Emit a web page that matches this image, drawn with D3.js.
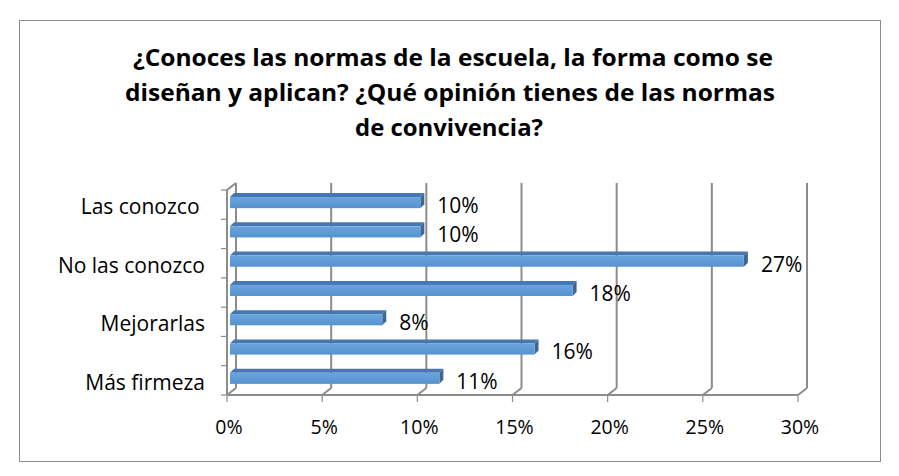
<!DOCTYPE html>
<html>
<head>
<meta charset="utf-8">
<script src="https://cdn.jsdelivr.net/npm/d3@7"></script>
<style>
  body { margin: 0; background: #fff; }
  svg text { font-family: "Open Sans", "Noto Sans", sans-serif; fill: #000; }
</style>
</head>
<body>
<svg id="chart" width="899" height="476"></svg>
<script>
// chart data
const categories = ["Las conozco", "c2", "No las conozco", "c4", "Mejorarlas", "c6", "Más firmeza"];
const shownLabels = ["Las conozco\u00a0", "", "No las conozco", "", "Mejorarlas", "", "Más firmeza"];
const values = [0.10, 0.10, 0.27, 0.18, 0.08, 0.16, 0.11];
const ticks = [0, 0.05, 0.10, 0.15, 0.20, 0.25, 0.30];
const titleLines = [
  "¿Conoces las normas de la escuela, la forma como se",
  "diseñan y aplican? ¿Qué opinión tienes de las normas",
  "de convivencia?"
];

const svg = d3.select("#chart");

// outer frame
svg.append("rect")
  .attr("x", 19.5).attr("y", 20.5)
  .attr("width", 861).attr("height", 441)
  .attr("fill", "#fff").attr("stroke", "#8c8c8c").attr("stroke-width", 1);

// title
const titleSpec = [
  { x: 453, y: 66, w: 640 },
  { x: 450, y: 101, w: 650 },
  { x: 449, y: 136, w: 188 }
];
svg.append("g").selectAll("text")
  .data(titleLines)
  .join("text")
  .attr("x", (d, i) => titleSpec[i].x)
  .attr("y", (d, i) => titleSpec[i].y)
  .attr("text-anchor", "middle")
  .attr("font-size", 23)
  .attr("font-weight", 700)
  .attr("textLength", (d, i) => titleSpec[i].w)
  .attr("lengthAdjust", "spacingAndGlyphs")
  .text(d => d);

// scales
const x = d3.scaleLinear().domain([0, 0.30]).range([227, 798]);
const y = d3.scaleBand().domain(categories).range([190, 395]).paddingInner(0).paddingOuter(0);
const dx = 9, dy = -7;       // depth of the 3D walls
const floorY = 395, topY = 190;
const gridColor = "#8c8c8c";

const walls = svg.append("g").attr("fill", "none").attr("stroke", gridColor);

// back-wall gridlines plus floor diagonals
ticks.forEach(t => {
  walls.append("line")
    .attr("x1", x(t) + dx).attr("x2", x(t) + dx)
    .attr("y1", topY + dy).attr("y2", floorY + dy)
    .attr("stroke-width", 2);
  walls.append("line")
    .attr("x1", x(t)).attr("y1", floorY)
    .attr("x2", x(t) + dx).attr("y2", floorY + dy)
    .attr("stroke-width", 2);
});

// left wall: front edge and top diagonal
walls.append("line")
  .attr("x1", x(0)).attr("x2", x(0))
  .attr("y1", topY).attr("y2", floorY)
  .attr("stroke-width", 2);
walls.append("line")
  .attr("x1", x(0)).attr("y1", topY)
  .attr("x2", x(0) + dx).attr("y2", topY + dy)
  .attr("stroke-width", 2);

// front floor edge
walls.append("line")
  .attr("x1", x(0)).attr("x2", x(0.30))
  .attr("y1", floorY).attr("y2", floorY)
  .attr("stroke-width", 2);

// category tick marks on left edge
const bounds = categories.map(c => y(c)).concat([floorY]);
walls.selectAll(".ytick")
  .data(bounds)
  .join("line")
  .attr("class", "ytick")
  .attr("x1", x(0) - 6).attr("x2", x(0))
  .attr("y1", d => d).attr("y2", d => d)
  .attr("stroke-width", 1.2);

// x tick marks and labels
const xAxis = svg.append("g");
xAxis.selectAll("line")
  .data(ticks)
  .join("line")
  .attr("x1", d => x(d)).attr("x2", d => x(d))
  .attr("y1", floorY).attr("y2", floorY + 7)
  .attr("stroke", gridColor).attr("stroke-width", 1.2);
xAxis.selectAll("text")
  .data(ticks)
  .join("text")
  .attr("x", d => x(d) + 2)
  .attr("y", 434)
  .attr("text-anchor", "middle")
  .attr("font-size", 19.5)
  .text(d => d3.format(".0%")(d));

// category labels
svg.append("g").selectAll("text")
  .data(categories)
  .join("text")
  .attr("x", 205)
  .attr("y", d => y(d) + y.bandwidth() / 2 + 2)
  .attr("dy", "0.35em")
  .attr("text-anchor", "end")
  .attr("font-size", 21)
  .text((d, i) => shownLabels[i]);

// 3D bars
const bh = y.bandwidth() * 0.38;
const bOff = y.bandwidth() * 0.24;
const bx = 3, bd = 4;
const bars = svg.append("g").selectAll("g")
  .data(categories.map((c, i) => ({ c, v: values[i] })))
  .join("g");

const grad = svg.append("defs").append("linearGradient")
  .attr("id", "barFront").attr("x1", 0).attr("y1", 0).attr("x2", 0).attr("y2", 1);
grad.append("stop").attr("offset", "0%").attr("stop-color", "#6aa5dc");
grad.append("stop").attr("offset", "100%").attr("stop-color", "#5592cf");

// top face
bars.append("path")
  .attr("fill", "#4777b0")
  .attr("d", d => {
    const y0 = y(d.c) + bOff, x0 = x(0) + bx, x1 = x(d.v) + bx;
    return `M${x0},${y0}L${x0 + bd},${y0 - bd}L${x1 + bd},${y0 - bd}L${x1},${y0}Z`;
  });
// end face
bars.append("path")
  .attr("fill", "#3c6797")
  .attr("d", d => {
    const y0 = y(d.c) + bOff, x1 = x(d.v) + bx;
    return `M${x1},${y0}L${x1 + bd},${y0 - bd}L${x1 + bd},${y0 + bh - bd}L${x1},${y0 + bh}Z`;
  });
// front face
bars.append("rect")
  .attr("x", x(0) + bx)
  .attr("y", d => y(d.c) + bOff)
  .attr("width", d => x(d.v) - x(0))
  .attr("height", bh)
  .attr("fill", "url(#barFront)");

// value labels
bars.append("text")
  .attr("x", d => x(d.v) + 20)
  .attr("y", d => y(d.c) + bOff + bh / 2 + 3)
  .attr("dy", "0.35em")
  .attr("font-size", 21)
  .text(d => d3.format(".0%")(d.v));
</script>
</body>
</html>
